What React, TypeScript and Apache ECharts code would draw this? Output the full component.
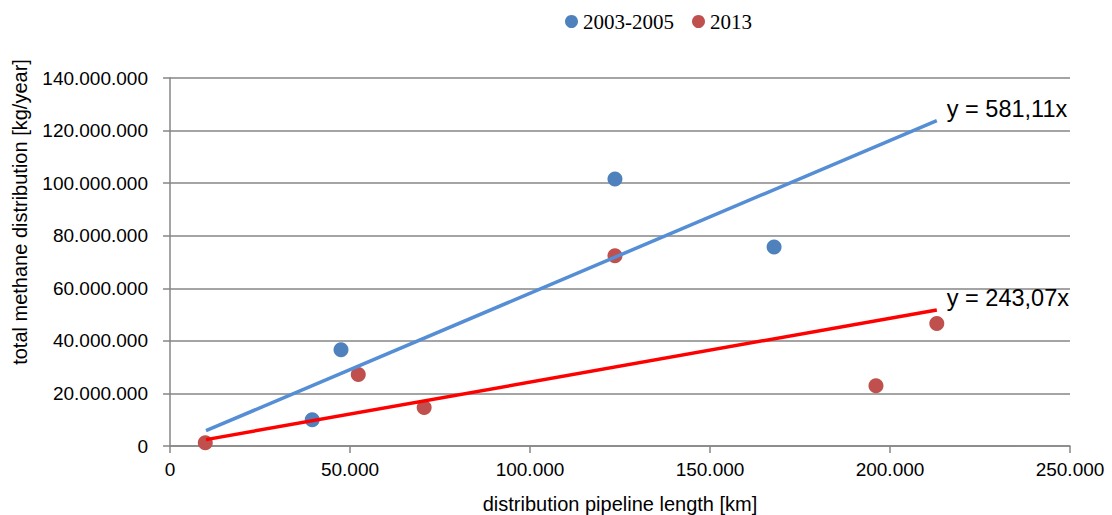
import React, { useEffect, useRef } from "react";
import * as echarts from "echarts";

const series2003Name = "2003-2005";
const series2013Name = "2013";
const data2003: [number, number][] = [
  [39500, 10000000],
  [47500, 36600000],
  [123600, 101600000],
  [167800, 75700000],
];
const data2013: [number, number][] = [
  [9800, 1200000],
  [52300, 27200000],
  [70600, 14600000],
  [123600, 72400000],
  [196100, 22900000],
  [213000, 46600000],
];
const trend2003: [number, number][] = [
  [10000, 5811100],
  [213000, 123776430],
];
const trend2013: [number, number][] = [
  [10000, 2430700],
  [213000, 51773910],
];
const trend2003Label = "y = 581,11x";
const trend2013Label = "y = 243,07x";
const xAxisTitle = "distribution pipeline length [km]";
const yAxisTitle = "total methane distribution [kg/year]";

const fmt = (v: number) => String(v).replace(/\B(?=(\d{3})+(?!\d))/g, ".");

export default function App() {
  const ref = useRef<HTMLDivElement>(null);
  useEffect(() => {
    if (!ref.current) return;
    const chart = echarts.init(ref.current, undefined, { renderer: "svg" });
    const sans = "'Liberation Sans', Arial, sans-serif";
    chart.setOption({
      animation: false,
      backgroundColor: "#ffffff",
      legend: {
        top: 6,
        left: 560,
        itemWidth: 13,
        itemHeight: 13,
        itemGap: 18,
        textStyle: { fontFamily: "'Liberation Serif', 'Times New Roman', serif", fontSize: 21, color: "#000" },
        data: [
          { name: series2003Name, icon: "circle" },
          { name: series2013Name, icon: "circle" },
        ],
      },
      graphic: [
        {
          type: "text",
          x: 20,
          y: 212,
          rotation: Math.PI / 2,
          style: {
            text: yAxisTitle,
            fontFamily: sans,
            fontSize: 20,
            fill: "#000",
            align: "center",
            verticalAlign: "middle",
          },
        },
      ],
      grid: { left: 170, right: 42, top: 78, bottom: 69, outerBoundsMode: "none", containLabel: false },
      xAxis: {
        type: "value",
        min: 0,
        max: 250000,
        interval: 50000,
        name: xAxisTitle,
        nameLocation: "middle",
        nameGap: 48,
        nameTextStyle: { fontFamily: sans, fontSize: 20, color: "#000" },
        axisLine: { show: true, onZero: false, lineStyle: { color: "#868686", width: 1.5 } },
        axisTick: { show: true, length: 7, lineStyle: { color: "#868686", width: 1.5 } },
        axisLabel: { fontFamily: sans, fontSize: 19, color: "#000", margin: 14, formatter: fmt },
        splitLine: { show: false },
      },
      yAxis: {
        type: "value",
        min: 0,
        max: 140000000,
        interval: 20000000,
        axisLine: { show: true, lineStyle: { color: "#868686", width: 1.5 } },
        axisTick: { show: true, length: 7, lineStyle: { color: "#868686", width: 1.5 } },
        axisLabel: { fontFamily: sans, fontSize: 19, color: "#000", margin: 22, formatter: fmt },
        splitLine: { show: true, lineStyle: { color: "#868686", width: 1.5 } },
      },
      series: [
        {
          name: series2003Name,
          type: "scatter",
          data: data2003,
          symbolSize: 15,
          itemStyle: { color: "#4F81BD", opacity: 1 },
          z: 2,
        },
        {
          name: series2013Name,
          type: "scatter",
          data: data2013,
          symbolSize: 15,
          itemStyle: { color: "#C0504D", opacity: 1 },
          z: 2,
        },
        {
          name: "trend2003",
          type: "line",
          data: trend2003,
          showSymbol: false,
          symbol: "none",
          lineStyle: { color: "#558ED5", width: 3.5 },
          z: 3,
          silent: true,
          endLabel: {
            show: true,
            formatter: trend2003Label,
            fontFamily: sans,
            fontSize: 23.5,
            color: "#000",
            distance: 10,
            offset: [0, -12],
          },
        },
        {
          name: "trend2013",
          type: "line",
          data: trend2013,
          showSymbol: false,
          symbol: "none",
          lineStyle: { color: "#FF0000", width: 3.5 },
          z: 3,
          silent: true,
          endLabel: {
            show: true,
            formatter: trend2013Label,
            fontFamily: sans,
            fontSize: 23.5,
            color: "#000",
            distance: 10,
            offset: [0, -12],
          },
        },
      ],
    });
    return () => chart.dispose();
  }, []);
  return (
    <div
      ref={ref}
      style={{ position: "absolute", left: 0, top: 0, width: 1112, height: 515 }}
    />
  );
}
